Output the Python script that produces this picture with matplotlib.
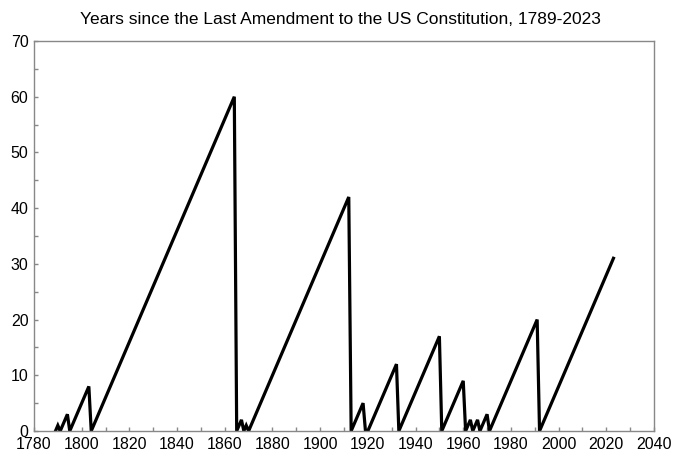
import matplotlib
matplotlib.use('Agg')
import matplotlib.pyplot as plt
from matplotlib.ticker import MultipleLocator

plt.rcParams['font.family'] = ['Liberation Sans', 'DejaVu Sans']

# vertices of the sawtooth: year, years since the last amendment
years = [1789, 1790, 1791, 1794, 1795, 1803, 1804, 1864, 1865, 1867, 1868,
         1869, 1870, 1912, 1913, 1918, 1919, 1920, 1932, 1933, 1950, 1951,
         1960, 1961, 1963, 1964, 1966, 1967, 1970, 1971, 1991, 1992, 2023]
since = [0, 1, 0, 3, 0, 8, 0, 60, 0, 2, 0,
         1, 0, 42, 0, 5, 0, 0, 12, 0, 17, 0,
         9, 0, 2, 0, 2, 0, 3, 0, 20, 0, 31]

fig = plt.figure(figsize=(6.8, 4.62), dpi=100)
# axes box: left 34, right 654, top 41, bottom 431 (pixels)
ax = fig.add_axes([34 / 680, 31 / 462, 620 / 680, 390 / 462])

ax.plot(years, since, color='black', lw=2.3, solid_joinstyle='miter')

ax.set_xlim(1780, 2040)
ax.set_ylim(0, 70)
ax.xaxis.set_major_locator(MultipleLocator(20))
ax.xaxis.set_minor_locator(MultipleLocator(10))
ax.yaxis.set_major_locator(MultipleLocator(10))
ax.yaxis.set_minor_locator(MultipleLocator(5))
ax.tick_params(which='both', direction='in', color='#888888', labelsize=11.5,
               length=3, width=1.0)
ax.tick_params(axis='x', pad=4)
ax.tick_params(axis='y', pad=4)
for s in ax.spines.values():
    s.set_color('#888888')
    s.set_linewidth(1.0)

fig.text(0.5, 1 - 20 / 462, 'Years since the Last Amendment to the US Constitution, 1789-2023',
         fontsize=12.5, ha='center', va='center')

fig.savefig('out.png', dpi=100)
